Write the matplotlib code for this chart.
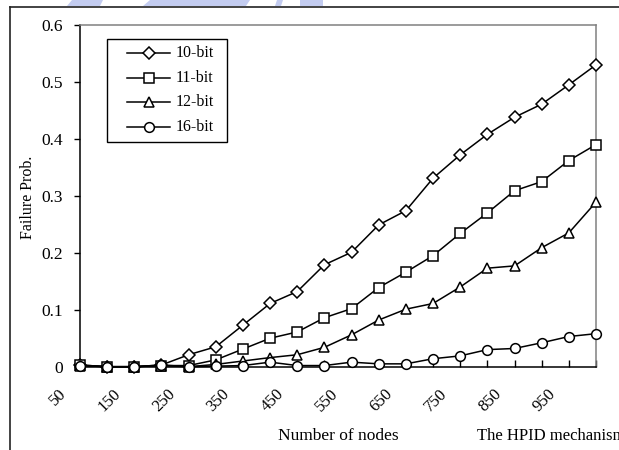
import numpy as np
import matplotlib
matplotlib.use("Agg")
import matplotlib.pyplot as plt
import matplotlib.transforms as mtransforms
from matplotlib.lines import Line2D
from matplotlib.patches import Polygon, Rectangle

nodes = [50, 100, 150, 200, 250, 300, 350, 400, 450, 500,
         550, 600, 650, 700, 750, 800, 850, 900, 950, 1000]
bit10 = [0.003, 0.0, 0.0, 0.003, 0.021, 0.035, 0.073, 0.111, 0.132, 0.179,
         0.201, 0.249, 0.274, 0.331, 0.372, 0.408, 0.438, 0.461, 0.495, 0.530]
bit11 = [0.003, 0.0, 0.0, 0.002, 0.002, 0.012, 0.031, 0.050, 0.061, 0.086,
         0.102, 0.139, 0.166, 0.195, 0.234, 0.270, 0.309, 0.325, 0.362, 0.390]
bit12 = [0.002, 0.0, 0.0, 0.002, 0.0, 0.004, 0.010, 0.016, 0.021, 0.034,
         0.056, 0.082, 0.101, 0.111, 0.140, 0.173, 0.177, 0.209, 0.235, 0.289]
bit16 = [0.002, 0.0, 0.0, 0.003, 0.0, 0.001, 0.002, 0.008, 0.002, 0.002,
         0.008, 0.005, 0.005, 0.014, 0.019, 0.030, 0.032, 0.042, 0.053, 0.058]
series_labels = ["10-bit", "11-bit", "12-bit", "16-bit"]
y_ticks = [0, 0.1, 0.2, 0.3, 0.4, 0.5, 0.6]
y_ticklabels = ["0", "0.1", "0.2", "0.3", "0.4", "0.5", "0.6"]

plt.rcParams["font.family"] = ["Liberation Serif", "DejaVu Serif"]

W, H = 619, 450
fig = plt.figure(figsize=(W / 100, H / 100), dpi=100)
fig.patch.set_facecolor("white")


def fx(px):
    return px / W


def fy(py):
    return 1 - py / H


# plot area in pixel terms
L, R, T, B = 80, 596, 25, 366.7
ax = fig.add_axes([fx(L), fy(B), (R - L) / W, (B - T) / H])

x = np.arange(len(nodes))
styles = [("D", 6.0), ("s", 6.5), ("^", 7.5), ("o", 7.0)]
for vals, lab, (mk, ms) in zip([bit10, bit11, bit12, bit16], series_labels, styles):
    ax.plot(x, vals, color="black", lw=1.1, marker=mk, ms=ms,
            mfc="white", mec="black", mew=1.1, label=lab, clip_on=False, zorder=3)

ax.set_xlim(0, len(nodes) - 1)
ax.set_ylim(0, 0.6)

ax.set_yticks(y_ticks)
ax.set_yticklabels(y_ticklabels, fontsize=12.5)
ax.set_xticks(x)
ax.set_xticklabels([str(n) if i % 2 == 0 else "" for i, n in enumerate(nodes)],
                   fontsize=12, rotation=45, ha="right", va="top")
ax.tick_params(axis="x", direction="in", length=5, width=1, pad=14)
ax.tick_params(axis="y", direction="out", length=4, width=1, pad=8)

shift = mtransforms.ScaledTranslation(-10 / 100, 0, fig.dpi_scale_trans)
for lbl in ax.get_xticklabels():
    lbl.set_transform(lbl.get_transform() + shift)

for side in ["left", "bottom"]:
    ax.spines[side].set_color("black")
    ax.spines[side].set_linewidth(1.1)
for side in ["top", "right"]:
    ax.spines[side].set_color("#808080")
    ax.spines[side].set_linewidth(1.1)

# legend box with one sample line per series
fig.add_artist(Rectangle((fx(107), fy(142)), (227 - 107) / W, (142 - 39) / H,
                         facecolor="white", edgecolor="black", lw=1.0,
                         transform=fig.transFigure, zorder=5))
for i, (lab, (mk, ms)) in enumerate(zip(series_labels, styles)):
    ry = 53 + 24.7 * i
    fig.add_artist(Line2D([fx(127), fx(170)], [fy(ry), fy(ry)], color="black",
                          lw=1.1, transform=fig.transFigure, zorder=6))
    fig.add_artist(Line2D([fx(148.5)], [fy(ry)], color="black", lw=0,
                          marker=mk, ms=ms, mfc="white", mec="black", mew=1.1,
                          transform=fig.transFigure, zorder=7))
    fig.text(fx(176), fy(ry), lab, ha="left", va="center", fontsize=11.5,
             zorder=7)

fig.text(fx(28), fy(197), "Failure Prob.", rotation=90, ha="center",
         va="center", fontsize=11.5)
fig.text(fx(338), fy(436), "Number of nodes", ha="center", va="center",
         fontsize=12.5)
fig.text(fx(477), fy(436), "The HPID mechanism", ha="left", va="center",
         fontsize=12)

# outer chart frame (top and left edges)
fig.add_artist(Line2D([fx(10), 1.0], [fy(7), fy(7)], color="#222222",
                      lw=1.2, transform=fig.transFigure))
fig.add_artist(Line2D([fx(10), fx(10)], [0, fy(7)], color="#222222",
                      lw=1.2, transform=fig.transFigure))

# faint blue marks above the frame
blue = "#c3ccf0"
for pts in [[(67, 6), (72, 0), (103, 0), (100, 6)],
            [(143, 6), (150, 0), (250, 0), (246, 6)],
            [(275, 6), (277, 0), (283, 0), (281, 6)],
            [(300, 6), (300, 0), (323, 0), (323, 6)]]:
    fig.add_artist(Polygon([(fx(px), fy(py)) for px, py in pts], closed=True,
                           facecolor=blue, edgecolor="none",
                           transform=fig.transFigure))

fig.savefig("out.png", dpi=100)
